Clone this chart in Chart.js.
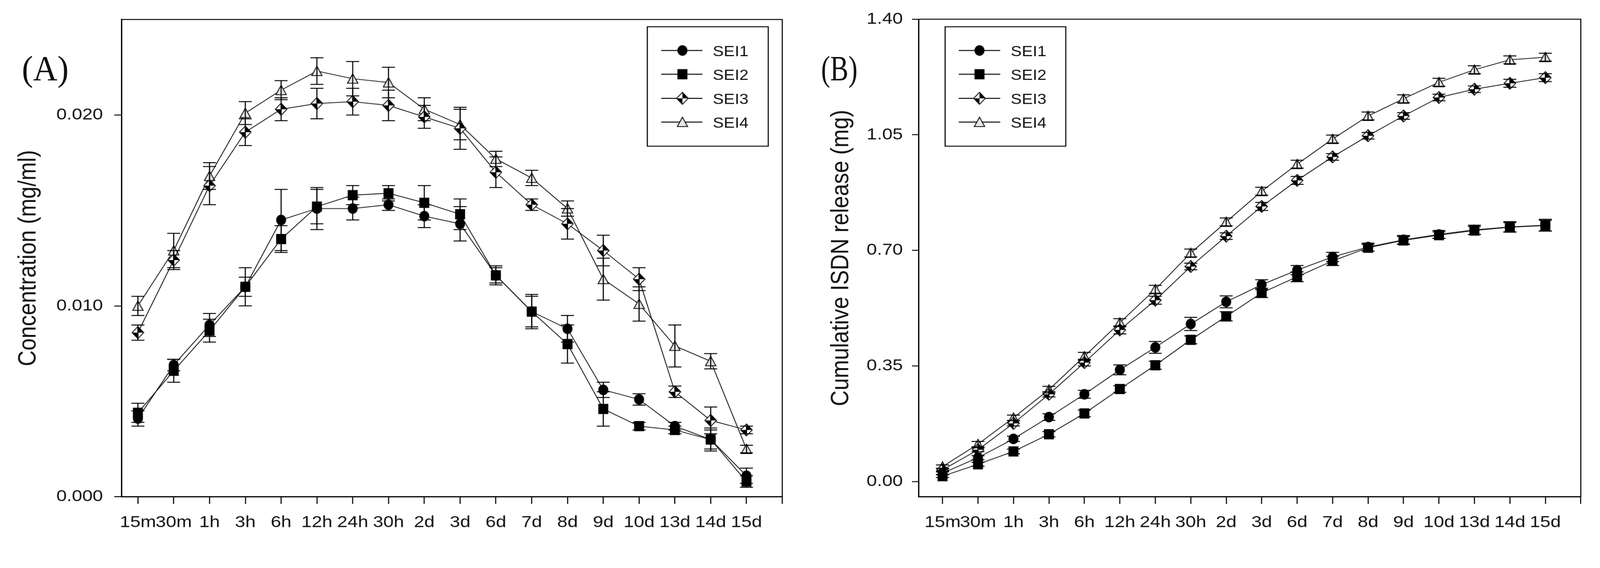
<!DOCTYPE html>
<html>
<head>
<meta charset="utf-8">
<script src="https://cdn.jsdelivr.net/npm/chart.js@4.4.1/dist/chart.umd.min.js"></script>
<style>
  html, body { margin: 0; padding: 0; background: #fff; overflow: hidden; }
  #page { position: absolute; left: 0; top: 0; width: 4244px; height: 1455px; transform-origin: 0 0; overflow: hidden; }
  /* the source figure is stretched sideways, so each panel is drawn narrow and widened */
  .panel { position: absolute; top: 0; height: 1455px; transform: scaleX(1.15); transform-origin: 0 0; }
  #panelA { left: 0; width: 1843px; }
  #panelB { left: 2120px; width: 1847px; }
  .tag { position: absolute; top: 134px; font-size: 94px; font-family: 'Liberation Serif', 'Times New Roman', serif; color: #111; line-height: 1; transform-origin: 0 0; white-space: nowrap; }
</style>
</head>
<body>
<div id="page">
  <div class="panel" id="panelA"><canvas id="chartA" width="1843" height="1455"></canvas></div>
  <div class="panel" id="panelB"><canvas id="chartB" width="1847" height="1455"></canvas></div>
  <div class="tag" style="left:58px; transform: scaleX(0.95);">(A)</div>
  <div class="tag" style="left:2178px; transform: scaleX(0.77);">(B)</div>
</div>
<script>
const categories = ['15m', '30m', '1h', '3h', '6h', '12h', '24h', '30h', '2d', '3d', '6d', '7d', '8d', '9d', '10d', '13d', '14d', '15d'];
const seriesNames = ['SEI1', 'SEI2', 'SEI3', 'SEI4'];

// (A) concentration, mg/ml
const concSEI1 = [0.0041, 0.0069, 0.0090, 0.0110, 0.0145, 0.0151, 0.0151, 0.0153, 0.0147, 0.0143, 0.0116, 0.0097, 0.0088, 0.0056, 0.0051, 0.0037, 0.0030, 0.0011];
const concSEI2 = [0.0044, 0.0066, 0.0087, 0.0110, 0.0135, 0.0152, 0.0158, 0.0159, 0.0154, 0.0148, 0.0116, 0.0097, 0.0080, 0.0046, 0.0037, 0.0035, 0.0030, 0.0008];
const concSEI3 = [0.0086, 0.0124, 0.0163, 0.0191, 0.0203, 0.0206, 0.0207, 0.0205, 0.0199, 0.0193, 0.0170, 0.0153, 0.0143, 0.0129, 0.0114, 0.0055, 0.0040, 0.0035];
const concSEI4 = [0.0100, 0.0129, 0.0168, 0.0201, 0.0213, 0.0223, 0.0219, 0.0217, 0.0203, 0.0195, 0.0177, 0.0167, 0.0151, 0.0114, 0.0101, 0.0079, 0.0071, 0.0025];
const concSdSEI1 = [0.0004, 0.0003, 0.0006, 0.0005, 0.0016, 0.0011, 0.0006, 0.0003, 0.0006, 0.0009, 0.0004, 0.0008, 0.0007, 0.0004, 0.0003, 0.0002, 0.0006, 0.0004];
const concSdSEI2 = [0.0005, 0.0006, 0.0006, 0.0010, 0.0007, 0.0009, 0.0005, 0.0004, 0.0009, 0.0008, 0.0005, 0.0009, 0.0010, 0.0009, 0.0002, 0.0002, 0.0005, 0.0003];
const concSdSEI3 = [0.0004, 0.0005, 0.0010, 0.0007, 0.0006, 0.0008, 0.0007, 0.0008, 0.0006, 0.0011, 0.0008, 0.0003, 0.0008, 0.0008, 0.0006, 0.0003, 0.0007, 0.0002];
const concSdSEI4 = [0.0005, 0.0009, 0.0007, 0.0006, 0.0005, 0.0007, 0.0009, 0.0008, 0.0006, 0.0008, 0.0004, 0.0004, 0.0004, 0.0011, 0.0009, 0.0011, 0.0004, 0.0002];

// (B) cumulative ISDN release, mg
const cumSEI1 = [0.025, 0.072, 0.129, 0.195, 0.264, 0.338, 0.406, 0.477, 0.544, 0.596, 0.640, 0.680, 0.710, 0.732, 0.748, 0.762, 0.771, 0.776];
const cumSEI2 = [0.016, 0.052, 0.091, 0.143, 0.206, 0.280, 0.352, 0.429, 0.500, 0.571, 0.620, 0.668, 0.708, 0.730, 0.746, 0.760, 0.770, 0.775];
const cumSEI3 = [0.035, 0.096, 0.176, 0.264, 0.360, 0.459, 0.549, 0.651, 0.743, 0.833, 0.912, 0.983, 1.047, 1.107, 1.163, 1.188, 1.206, 1.223];
const cumSEI4 = [0.045, 0.113, 0.193, 0.278, 0.379, 0.481, 0.582, 0.692, 0.786, 0.879, 0.961, 1.037, 1.107, 1.159, 1.209, 1.247, 1.277, 1.285];
const cumSdSEI1 = [0.004, 0.006, 0.008, 0.010, 0.012, 0.015, 0.018, 0.020, 0.018, 0.015, 0.014, 0.014, 0.012, 0.013, 0.012, 0.014, 0.016, 0.018];
const cumSdSEI2 = [0.004, 0.006, 0.007, 0.008, 0.010, 0.010, 0.012, 0.012, 0.014, 0.014, 0.015, 0.014, 0.010, 0.012, 0.010, 0.012, 0.014, 0.016];
const cumSdSEI3 = [0.004, 0.006, 0.008, 0.008, 0.010, 0.012, 0.012, 0.010, 0.010, 0.012, 0.012, 0.010, 0.010, 0.010, 0.010, 0.010, 0.012, 0.012];
const cumSdSEI4 = [0.005, 0.008, 0.008, 0.010, 0.012, 0.012, 0.012, 0.012, 0.012, 0.012, 0.012, 0.012, 0.012, 0.012, 0.012, 0.012, 0.012, 0.012];

const yTicksA = [0, 0.010, 0.020];
const yTicksB = [0, 0.35, 0.70, 1.05, 1.40];

// fit the 4244x1455 page into whatever viewport we get
const fit = Math.min(window.innerWidth / 4244, window.innerHeight / 1455);
if (fit > 0 && Math.abs(fit - 1) > 0.002) {
  document.getElementById('page').style.transform = 'scale(' + fit + ')';
}

const fontFamily = "'Liberation Sans', Arial, sans-serif";
Chart.defaults.font.family = fontFamily;
Chart.defaults.color = '#111';

// SigmaPlot-like symbols
function makeMarker(kind) {
  const sizes = { circle: [25, 30], square: [25, 29], diamond: [29, 34], triangle: [27, 30] };
  const [w, h] = sizes[kind];
  const c = document.createElement('canvas');
  c.width = w; c.height = h;
  const g = c.getContext('2d');
  g.fillStyle = '#000';
  g.strokeStyle = '#000';
  g.lineWidth = 2;
  if (kind === 'circle') {
    g.beginPath();
    g.ellipse(w / 2, h / 2, w / 2 - 1, h / 2 - 1, 0, 0, Math.PI * 2);
    g.fill();
  } else if (kind === 'square') {
    g.fillRect(1, 1, w - 2, h - 2);
  } else if (kind === 'diamond') {
    const cx = w / 2, cy = h / 2;
    g.beginPath();
    g.moveTo(cx, 1); g.lineTo(w - 1, cy); g.lineTo(cx, h - 1); g.lineTo(1, cy); g.closePath();
    g.fillStyle = '#fff'; g.fill();
    g.fillStyle = '#000';
    g.beginPath(); g.moveTo(cx, cy); g.lineTo(cx, 1); g.lineTo(w - 1, cy); g.closePath(); g.fill();
    g.beginPath(); g.moveTo(cx, cy); g.lineTo(cx, h - 1); g.lineTo(1, cy); g.closePath(); g.fill();
    g.beginPath();
    g.moveTo(cx, 1); g.lineTo(w - 1, cy); g.lineTo(cx, h - 1); g.lineTo(1, cy); g.closePath();
    g.stroke();
  } else {
    g.beginPath();
    g.moveTo(w / 2, 2); g.lineTo(w - 1.5, h - 3); g.lineTo(1.5, h - 3); g.closePath();
    g.fillStyle = '#e6e6e6'; g.fill();
    g.stroke();
  }
  return c;
}
const markers = [makeMarker('circle'), makeMarker('square'), makeMarker('diamond'), makeMarker('triangle')];

const xTicks = categories.map((c, i) => i).concat([categories.length]);

const errorBars = {
  id: 'errorBars',
  afterDatasetsDraw(chart, args, opts) {
    const { ctx, scales: { x, y } } = chart;
    ctx.save();
    ctx.strokeStyle = '#000';
    ctx.lineWidth = opts.lineWidth;
    chart.data.datasets.forEach(ds => {
      ds.data.forEach((p, i) => {
        const sd = ds.errors[i];
        const px = x.getPixelForValue(p.x);
        const top = y.getPixelForValue(p.y + sd);
        const bot = y.getPixelForValue(p.y - sd);
        ctx.beginPath();
        ctx.moveTo(px, top); ctx.lineTo(px, bot);
        ctx.moveTo(px - opts.cap, top); ctx.lineTo(px + opts.cap, top);
        ctx.moveTo(px - opts.cap, bot); ctx.lineTo(px + opts.cap, bot);
        ctx.stroke();
      });
    });
    ctx.restore();
  }
};

const frame = {
  id: 'frame',
  afterDraw(chart, args, opts) {
    const { ctx, chartArea: a } = chart;
    ctx.save();
    ctx.strokeStyle = '#000';
    ctx.lineWidth = opts.lineWidth;
    ctx.beginPath();
    ctx.moveTo(a.left, a.top); ctx.lineTo(a.right, a.top); ctx.lineTo(a.right, a.bottom);
    ctx.stroke();
    ctx.restore();
  }
};

const boxLegend = {
  id: 'boxLegend',
  afterDraw(chart, args, o) {
    const { ctx } = chart;
    ctx.save();
    ctx.strokeStyle = '#000';
    ctx.lineWidth = 2.5;
    ctx.strokeRect(o.left, o.top, o.width, o.height);
    ctx.font = o.fontSize + 'px ' + fontFamily;
    ctx.fillStyle = '#111';
    ctx.textBaseline = 'middle';
    ctx.textAlign = 'left';
    chart.data.datasets.forEach((ds, k) => {
      const yy = o.rowY[k];
      ctx.beginPath(); ctx.moveTo(o.lineX1, yy); ctx.lineTo(o.lineX2, yy); ctx.stroke();
      const img = ds.pointStyle;
      ctx.drawImage(img, o.markerX - img.width / 2, yy - img.height / 2);
      ctx.fillText(ds.label, o.textX, yy + 5);
    });
    ctx.restore();
  }
};

function makeDatasets(values, errors) {
  return seriesNames.map((name, k) => ({
    label: name,
    data: values[k].map((v, i) => ({ x: i, y: v })),
    errors: errors[k],
    borderColor: '#111',
    borderWidth: 2,
    pointStyle: markers[k],
    pointRadius: 12,
    tension: 0,
    fill: false
  }));
}

function panelOptions(p) {
  return {
    responsive: false,
    animation: false,
    events: [],
    layout: { padding: { left: 0, top: 51, right: p.padRight, bottom: 0 } },
    plugins: {
      legend: { display: false },
      tooltip: { enabled: false },
      errorBars: { cap: 15, lineWidth: 2.5 },
      frame: { lineWidth: 2.5 },
      boxLegend: p.legend
    },
    scales: {
      x: {
        type: 'linear',
        bounds: 'data',
        min: p.xMin,
        max: categories.length,
        afterBuildTicks: s => { s.ticks = xTicks.map(v => ({ value: v })); },
        afterFit: s => { s.height = 136.5; },
        ticks: {
          autoSkip: false,
          maxRotation: 0,
          minRotation: 0,
          padding: 24,
          font: { size: 43 },
          color: '#111',
          callback: v => categories[v] ?? ''
        },
        grid: { drawOnChartArea: false, tickLength: 19, color: '#000', lineWidth: 2.5 },
        border: { color: '#000', width: 3 }
      },
      y: {
        type: 'linear',
        bounds: 'data',
        min: p.yMin,
        max: p.yMax,
        afterBuildTicks: s => { s.ticks = p.yTicks.map(v => ({ value: v })); },
        afterFit: s => { s.width = p.yWidth; },
        ticks: {
          padding: p.yPad,
          font: { size: 43 },
          color: '#111',
          callback: v => v.toFixed(p.digits)
        },
        grid: { drawOnChartArea: false, tickLength: p.yTick, color: '#000', lineWidth: 2.5 },
        border: { color: '#000', width: 3 },
        title: {
          display: true,
          text: p.title,
          font: { size: 58 },
          color: '#111',
          padding: { top: p.titlePad, bottom: 0 }
        }
      }
    }
  };
}

new Chart(document.getElementById('chartA'), {
  type: 'line',
  data: { datasets: makeDatasets([concSEI1, concSEI2, concSEI3, concSEI4], [concSdSEI1, concSdSEI2, concSdSEI3, concSdSEI4]) },
  options: panelOptions({
    padRight: 38.7, xMin: -0.45, yMin: 0, yMax: 0.025, yTicks: yTicksA, digits: 3,
    yWidth: 280.9, yPad: 26, yTick: 17.4, titlePad: 31,
    title: 'Concentration (mg/ml)',
    legend: { left: 1493, top: 71, width: 279, height: 317, lineX1: 1525, lineX2: 1620, markerX: 1574, textX: 1644, rowY: [134, 197, 261, 324], fontSize: 38 }
  }),
  plugins: [errorBars, frame, boxLegend]
});

new Chart(document.getElementById('chartB'), {
  type: 'line',
  data: { datasets: makeDatasets([cumSEI1, cumSEI2, cumSEI3, cumSEI4], [cumSdSEI1, cumSdSEI2, cumSdSEI3, cumSdSEI4]) },
  options: panelOptions({
    padRight: 44.4, xMin: -0.67, yMin: -0.0464, yMax: 1.40, yTicks: yTicksB, digits: 2,
    yWidth: 275.7, yPad: 21, yTick: 15.7, titlePad: 62,
    title: 'Cumulative ISDN release (mg)',
    legend: { left: 336.5, top: 71, width: 278.3, height: 317, lineX1: 367.8, lineX2: 463.5, markerX: 415.7, textX: 487.8, rowY: [134, 197, 261, 324], fontSize: 38 }
  }),
  plugins: [errorBars, frame, boxLegend]
});
</script>
</body>
</html>
